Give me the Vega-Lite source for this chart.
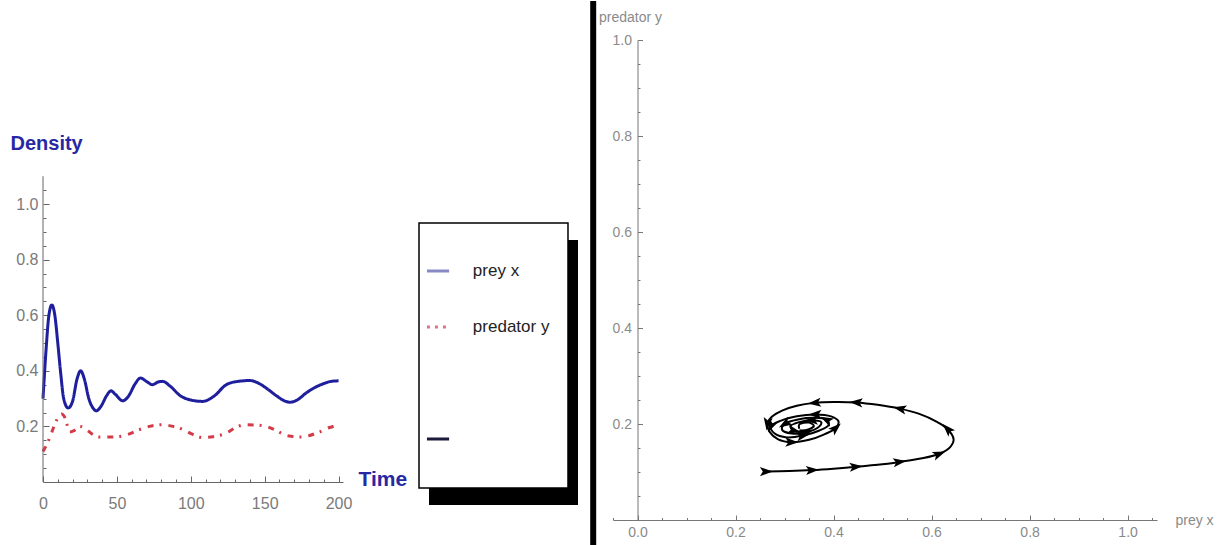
{
  "$schema": "https://vega.github.io/schema/vega-lite/v6.json",
  "background": "white",
  "padding": {"left": 10, "top": 0, "right": 0, "bottom": 0},
  "spacing": 0,
  "bounds": "flush",
  "config": {
    "view": {"stroke": null},
    "axis": {"grid": false, "labelFont": "Liberation Sans", "titleFont": "Liberation Sans", "labelOverlap": false, "labelFlush": false}
  },
  "resolve": {"scale": {"color": "independent", "strokeDash": "independent"}},
  "hconcat": [
    {
      "width": 300,
      "height": 442,
      "layer": [
        {
          "data": {"values": [
            {"t": 0, "density": 0.30, "series": "prey x"},
            {"t": 2, "density": 0.47, "series": "prey x"},
            {"t": 4, "density": 0.60, "series": "prey x"},
            {"t": 6, "density": 0.637, "series": "prey x"},
            {"t": 8, "density": 0.60, "series": "prey x"},
            {"t": 10, "density": 0.50, "series": "prey x"},
            {"t": 12, "density": 0.39, "series": "prey x"},
            {"t": 14, "density": 0.30, "series": "prey x"},
            {"t": 17, "density": 0.266, "series": "prey x"},
            {"t": 20, "density": 0.29, "series": "prey x"},
            {"t": 23, "density": 0.37, "series": "prey x"},
            {"t": 25.5, "density": 0.40, "series": "prey x"},
            {"t": 28, "density": 0.37, "series": "prey x"},
            {"t": 31, "density": 0.30, "series": "prey x"},
            {"t": 34, "density": 0.265, "series": "prey x"},
            {"t": 36, "density": 0.256, "series": "prey x"},
            {"t": 39, "density": 0.27, "series": "prey x"},
            {"t": 43, "density": 0.31, "series": "prey x"},
            {"t": 46, "density": 0.328, "series": "prey x"},
            {"t": 49, "density": 0.315, "series": "prey x"},
            {"t": 54, "density": 0.292, "series": "prey x"},
            {"t": 58, "density": 0.31, "series": "prey x"},
            {"t": 62, "density": 0.35, "series": "prey x"},
            {"t": 66, "density": 0.374, "series": "prey x"},
            {"t": 70, "density": 0.362, "series": "prey x"},
            {"t": 74, "density": 0.35, "series": "prey x"},
            {"t": 78, "density": 0.36, "series": "prey x"},
            {"t": 81, "density": 0.362, "series": "prey x"},
            {"t": 86, "density": 0.345, "series": "prey x"},
            {"t": 93, "density": 0.31, "series": "prey x"},
            {"t": 100, "density": 0.295, "series": "prey x"},
            {"t": 108, "density": 0.29, "series": "prey x"},
            {"t": 116, "density": 0.31, "series": "prey x"},
            {"t": 124, "density": 0.35, "series": "prey x"},
            {"t": 132, "density": 0.362, "series": "prey x"},
            {"t": 140, "density": 0.365, "series": "prey x"},
            {"t": 146, "density": 0.355, "series": "prey x"},
            {"t": 151, "density": 0.338, "series": "prey x"},
            {"t": 158, "density": 0.31, "series": "prey x"},
            {"t": 163, "density": 0.293, "series": "prey x"},
            {"t": 167, "density": 0.287, "series": "prey x"},
            {"t": 172, "density": 0.295, "series": "prey x"},
            {"t": 178, "density": 0.32, "series": "prey x"},
            {"t": 184, "density": 0.34, "series": "prey x"},
            {"t": 189, "density": 0.352, "series": "prey x"},
            {"t": 195, "density": 0.362, "series": "prey x"},
            {"t": 200, "density": 0.364, "series": "prey x"},
            {"t": 0, "density": 0.11, "series": "predator y"},
            {"t": 3, "density": 0.14, "series": "predator y"},
            {"t": 6, "density": 0.18, "series": "predator y"},
            {"t": 9, "density": 0.22, "series": "predator y"},
            {"t": 12.5, "density": 0.245, "series": "predator y"},
            {"t": 15, "density": 0.23, "series": "predator y"},
            {"t": 18, "density": 0.18, "series": "predator y"},
            {"t": 21, "density": 0.185, "series": "predator y"},
            {"t": 25, "density": 0.20, "series": "predator y"},
            {"t": 29, "density": 0.19, "series": "predator y"},
            {"t": 34, "density": 0.17, "series": "predator y"},
            {"t": 38, "density": 0.162, "series": "predator y"},
            {"t": 45, "density": 0.162, "series": "predator y"},
            {"t": 52, "density": 0.164, "series": "predator y"},
            {"t": 58, "density": 0.172, "series": "predator y"},
            {"t": 65, "density": 0.188, "series": "predator y"},
            {"t": 72, "density": 0.20, "series": "predator y"},
            {"t": 81, "density": 0.206, "series": "predator y"},
            {"t": 88, "density": 0.20, "series": "predator y"},
            {"t": 95, "density": 0.188, "series": "predator y"},
            {"t": 101, "density": 0.172, "series": "predator y"},
            {"t": 108, "density": 0.16, "series": "predator y"},
            {"t": 115, "density": 0.163, "series": "predator y"},
            {"t": 124, "density": 0.176, "series": "predator y"},
            {"t": 130, "density": 0.195, "series": "predator y"},
            {"t": 137, "density": 0.206, "series": "predator y"},
            {"t": 144, "density": 0.205, "series": "predator y"},
            {"t": 151, "density": 0.20, "series": "predator y"},
            {"t": 158, "density": 0.185, "series": "predator y"},
            {"t": 164, "density": 0.168, "series": "predator y"},
            {"t": 169, "density": 0.164, "series": "predator y"},
            {"t": 174, "density": 0.162, "series": "predator y"},
            {"t": 178, "density": 0.164, "series": "predator y"},
            {"t": 186, "density": 0.178, "series": "predator y"},
            {"t": 194, "density": 0.196, "series": "predator y"},
            {"t": 200, "density": 0.206, "series": "predator y"}
          ]},
          "mark": {"type": "line", "strokeWidth": 3, "interpolate": "monotone"},
          "encoding": {
            "x": {
              "field": "t", "type": "quantitative",
              "scale": {"domain": [0, 203], "nice": false, "zero": false},
              "axis": {
                "orient": "bottom",
                "values": [0, 50, 100, 150, 200],
                "format": "d",
                "domainColor": "#666666", "tickColor": "#666666",
                "tickSize": -6,
                "labelColor": "#7a7a7a", "labelFontSize": 16, "labelPadding": 19,
                "title": "Time", "titleX": 315, "titleY": -3, "titleAlign": "left", "titleBaseline": "middle",
                "titleAngle": 0, "titleFontSize": 21,
                "titleFontWeight": "bold", "titleColor": "#2828a4"
              }
            },
            "y": {
              "field": "density", "type": "quantitative",
              "scale": {"domain": [0, 1.59], "nice": false},
              "axis": {
                "orient": "left",
                "values": [0.2, 0.4, 0.6, 0.8, 1.0],
                "format": ".1f",
                "domain": false, "tickColor": "#666666",
                "tickSize": -6,
                "labelColor": "#7a7a7a", "labelFontSize": 16, "labelPadding": 11,
                "title": "Density", "titleX": -33, "titleY": 109, "titleAlign": "left", "titleBaseline": "alphabetic",
                "titleAngle": 0, "titleFontSize": 20,
                "titleFontWeight": "bold", "titleColor": "#2828a4"
              }
            },
            "color": {"field": "series", "type": "nominal", "scale": {"domain": ["prey x", "predator y"], "range": ["#1f1f9e", "#d43a48"]}, "legend": null},
            "strokeDash": {"field": "series", "type": "nominal", "scale": {"domain": ["prey x", "predator y"], "range": [[1, 0], [6, 6, 2, 7]]}, "legend": null}
          }
        },
        {
          "data": {"values": [{}]},
          "mark": {"type": "rule", "color": "#666666", "strokeWidth": 1},
          "encoding": {
            "x": {"datum": 0, "axis": {
              "orient": "bottom", "values": [10,20,30,40,60,70,80,90,110,120,130,140,160,170,180,190],
              "labels": false, "domain": false, "tickColor": "#666666", "tickSize": -3, "title": null
            }},
            "y": {"datum": 0, "axis": {
              "orient": "left", "values": [0.05,0.1,0.15,0.25,0.3,0.35,0.45,0.5,0.55,0.65,0.7,0.75,0.85,0.9,0.95,1.05],
              "labels": false, "domain": false, "tickColor": "#666666", "tickSize": -3, "title": null
            }},
            "y2": {"datum": 1.1}
          }
        }
      ],
      "resolve": {"axis": {"x": "independent", "y": "independent"}}
    },
    {
      "width": 270,
      "height": 480,
      "layer": [
        {
          "data": {"values": [{}]},
          "mark": {"type": "rect", "fill": "black"},
          "encoding": {
            "x": {"datum": 0.3185, "type": "quantitative", "scale": {"domain": [0, 1]}, "axis": null},
            "x2": {"datum": 0.8704},
            "y": {"datum": 0.03125, "type": "quantitative", "scale": {"domain": [0, 1]}, "axis": null},
            "y2": {"datum": 0.5833}
          }
        },
        {
          "data": {"values": [{}]},
          "mark": {"type": "rect", "fill": "white", "stroke": "black", "strokeWidth": 1.5},
          "encoding": {
            "x": {"datum": 0.2815, "type": "quantitative", "scale": {"domain": [0, 1]}, "axis": null},
            "x2": {"datum": 0.8333},
            "y": {"datum": 0.0667, "type": "quantitative", "scale": {"domain": [0, 1]}, "axis": null},
            "y2": {"datum": 0.6188}
          }
        },
        {
          "data": {"values": [{"series": "prey x"}, {"series": "predator y"}, {"series": ""}]},
          "mark": {"type": "rule", "strokeWidth": 3},
          "encoding": {
            "x": {"datum": 0.311, "type": "quantitative", "scale": {"domain": [0, 1]}, "axis": null},
            "x2": {"datum": 0.393},
            "y": {"field": "series", "type": "ordinal", "scale": {"type": "point", "padding": 0, "domain": ["prey x", "predator y", " ", ""], "range": [231, 399]}, "axis": null},
            "color": {"field": "series", "type": "nominal", "scale": {"domain": ["prey x", "predator y", ""], "range": ["#8888c6", "#e07088", "#1a1a3a"]}, "legend": null},
            "strokeDash": {"field": "series", "type": "nominal", "scale": {"domain": ["prey x", "predator y", ""], "range": [[1, 0], [3, 5], [1, 0]]}, "legend": null}
          }
        },
        {
          "data": {"values": [{"series": "prey x"}, {"series": "predator y"}, {"series": ""}]},
          "mark": {"type": "text", "align": "left", "baseline": "middle", "fontSize": 17, "font": "Liberation Sans", "color": "#222222"},
          "encoding": {
            "x": {"datum": 0.481, "type": "quantitative", "scale": {"domain": [0, 1]}, "axis": null},
            "y": {"field": "series", "type": "ordinal", "scale": {"type": "point", "padding": 0, "domain": ["prey x", "predator y", " ", ""], "range": [231, 399]}, "axis": null},
            "text": {"field": "series"}
          }
        }
      ],
      "resolve": {"scale": {"y": "independent"}}
    },
    {
      "width": 544,
      "height": 480,
      "data": {"values": [
        {"i": 1, "prey": 0.263, "predator": 0.101},
        {"i": 2, "prey": 0.31, "predator": 0.102},
        {"i": 3, "prey": 0.357, "predator": 0.104},
        {"i": 4, "prey": 0.40, "predator": 0.107},
        {"i": 5, "prey": 0.446, "predator": 0.111},
        {"i": 6, "prey": 0.49, "predator": 0.115},
        {"i": 7, "prey": 0.535, "predator": 0.121},
        {"i": 8, "prey": 0.578, "predator": 0.128},
        {"i": 9, "prey": 0.616, "predator": 0.138},
        {"i": 10, "prey": 0.638, "predator": 0.152},
        {"i": 11, "prey": 0.645, "predator": 0.168},
        {"i": 12, "prey": 0.632, "predator": 0.19},
        {"i": 13, "prey": 0.61, "predator": 0.205},
        {"i": 14, "prey": 0.575, "predator": 0.221},
        {"i": 15, "prey": 0.535, "predator": 0.232},
        {"i": 16, "prey": 0.49, "predator": 0.24},
        {"i": 17, "prey": 0.446, "predator": 0.245},
        {"i": 18, "prey": 0.40, "predator": 0.246},
        {"i": 19, "prey": 0.361, "predator": 0.244},
        {"i": 20, "prey": 0.325, "predator": 0.238},
        {"i": 21, "prey": 0.295, "predator": 0.228},
        {"i": 22, "prey": 0.274, "predator": 0.215},
        {"i": 23, "prey": 0.265, "predator": 0.2},
        {"i": 24, "prey": 0.27, "predator": 0.183},
        {"i": 25, "prey": 0.287, "predator": 0.168},
        {"i": 26, "prey": 0.315, "predator": 0.162},
        {"i": 27, "prey": 0.35, "predator": 0.167},
        {"i": 28, "prey": 0.38, "predator": 0.178},
        {"i": 29, "prey": 0.405, "predator": 0.192},
        {"i": 30, "prey": 0.41, "predator": 0.206},
        {"i": 31, "prey": 0.395, "predator": 0.216},
        {"i": 32, "prey": 0.362, "predator": 0.22},
        {"i": 33, "prey": 0.325, "predator": 0.216},
        {"i": 34, "prey": 0.293, "predator": 0.207},
        {"i": 35, "prey": 0.272, "predator": 0.195},
        {"i": 36, "prey": 0.28, "predator": 0.18},
        {"i": 37, "prey": 0.305, "predator": 0.172},
        {"i": 38, "prey": 0.338, "predator": 0.176},
        {"i": 39, "prey": 0.37, "predator": 0.186},
        {"i": 40, "prey": 0.39, "predator": 0.198},
        {"i": 41, "prey": 0.385, "predator": 0.209},
        {"i": 42, "prey": 0.36, "predator": 0.213},
        {"i": 43, "prey": 0.33, "predator": 0.21},
        {"i": 44, "prey": 0.3, "predator": 0.2},
        {"i": 45, "prey": 0.295, "predator": 0.188},
        {"i": 46, "prey": 0.315, "predator": 0.18},
        {"i": 47, "prey": 0.345, "predator": 0.183},
        {"i": 48, "prey": 0.37, "predator": 0.194},
        {"i": 49, "prey": 0.375, "predator": 0.204},
        {"i": 50, "prey": 0.355, "predator": 0.208},
        {"i": 51, "prey": 0.33, "predator": 0.204},
        {"i": 52, "prey": 0.312, "predator": 0.195},
        {"i": 53, "prey": 0.32, "predator": 0.186},
        {"i": 54, "prey": 0.343, "predator": 0.187},
        {"i": 55, "prey": 0.36, "predator": 0.196},
        {"i": 56, "prey": 0.35, "predator": 0.203},
        {"i": 57, "prey": 0.33, "predator": 0.199},
        {"i": 58, "prey": 0.33, "predator": 0.19}
      ]},
      "layer": [
        {
          "data": {"values": [{}]},
          "mark": {"type": "rect", "fill": "black"},
          "encoding": {
            "x": {"datum": -0.0965, "type": "quantitative", "scale": {"domain": [-0.05, 1.06], "nice": false, "zero": false},
              "axis": {"orient": "bottom", "values": [-0.05,0.05,0.1,0.15,0.25,0.3,0.35,0.45,0.5,0.55,0.65,0.7,0.75,0.85,0.9,0.95,1.05],
                "labels": false, "domain": false, "tickColor": "#777777", "tickSize": -2.5, "title": null}},
            "x2": {"datum": -0.0843},
            "y": {"datum": -0.054, "type": "quantitative", "scale": {"domain": [0, 1], "nice": false},
              "axis": {"orient": "left", "offset": -24.5, "values": [0.05,0.1,0.15,0.25,0.3,0.35,0.45,0.5,0.55,0.65,0.7,0.75,0.85,0.9,0.95],
                "labels": false, "domain": false, "tickColor": "#777777", "tickSize": -2.5, "title": null}},
            "y2": {"datum": 1.0813}
          }
        },
        {
          "mark": {"type": "line", "color": "black", "strokeWidth": 2, "interpolate": "catmull-rom"},
          "encoding": {
            "x": {
              "field": "prey", "type": "quantitative",
              "scale": {"domain": [-0.05, 1.06], "nice": false, "zero": false},
              "axis": {
                "orient": "bottom",
                "values": [0, 0.2, 0.4, 0.6, 0.8, 1.0],
                "format": ".1f",
                "domainColor": "#777777", "tickColor": "#777777",
                "tickSize": -5,
                "labelColor": "#8a8a8a", "labelFontSize": 14, "labelPadding": 10,
                "title": "prey x", "titleX": 562, "titleY": 0, "titleAlign": "left", "titleBaseline": "middle",
                "titleAngle": 0, "titleFontSize": 14, "titleFontWeight": "normal", "titleColor": "#8a8a8a"
              }
            },
            "y": {
              "field": "predator", "type": "quantitative",
              "scale": {"domain": [0, 1], "nice": false},
              "axis": {
                "orient": "left",
                "offset": -24.5,
                "values": [0.2, 0.4, 0.6, 0.8, 1.0],
                "format": ".1f",
                "domainColor": "#777777", "tickColor": "#777777",
                "tickSize": -5,
                "labelColor": "#8a8a8a", "labelFontSize": 14, "labelPadding": 11,
                "title": "predator y", "titleX": -39, "titleY": -23, "titleAlign": "left", "titleBaseline": "middle",
                "titleAngle": 0, "titleFontSize": 14, "titleFontWeight": "normal", "titleColor": "#8a8a8a"
              }
            },
            "order": {"field": "i", "type": "quantitative"}
          }
        },
        {
          "transform": [
            {"window": [
              {"op": "lead", "field": "prey", "as": "nx"},
              {"op": "lead", "field": "predator", "as": "ny"},
              {"op": "lag", "field": "prey", "as": "lx"},
              {"op": "lag", "field": "predator", "as": "ly"}
            ], "sort": [{"field": "i", "order": "ascending"}]},
            {"filter": {"field": "i", "oneOf": [1,3,5,7,9,12,15,17,19,23,26,29,32,35,38,41,44,47,50,53]}},
            {"calculate": "atan2(-((isValid(datum.ny) ? datum.ny : datum.predator) - (isValid(datum.ly) ? datum.ly : datum.predator)) * 480, ((isValid(datum.nx) ? datum.nx : datum.prey) - (isValid(datum.lx) ? datum.lx : datum.prey)) * 490) * 180 / PI", "as": "heading"}
          ],
          "mark": {"type": "point", "shape": "M1,0L-1,-0.7L-0.55,0L-1,0.7Z", "filled": true, "color": "black", "opacity": 1, "size": 170},
          "encoding": {
            "x": {"field": "prey", "type": "quantitative", "axis": null},
            "y": {"field": "predator", "type": "quantitative", "axis": null},
            "angle": {"field": "heading", "type": "quantitative", "scale": null}
          }
        }
      ],
      "resolve": {"axis": {"x": "independent", "y": "independent"}}
    }
  ]
}
